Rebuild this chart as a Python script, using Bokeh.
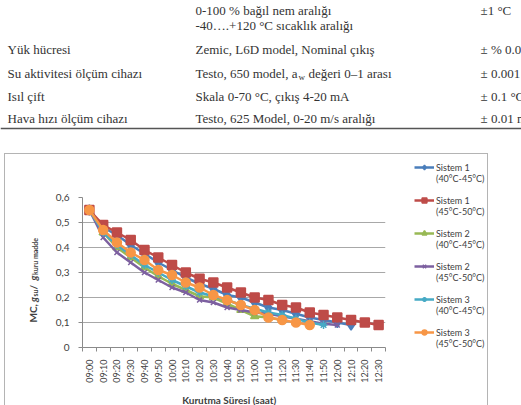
from math import pi
from bokeh.plotting import figure
from bokeh.models import (FactorRange, Range1d, LinearAxis, FixedTicker, Legend, LegendItem,
                          Span, Spacer, ColumnDataSource)
from bokeh.layouts import row, column
from bokeh.core.properties import value
from bokeh.embed import file_html
from bokeh.resources import INLINE

# ---------------- data ----------------
cats = ["09:00", "09:10", "09:20", "09:30", "09:40", "09:50", "10:00", "10:10", "10:20", "10:30",
        "10:40", "10:50", "11:00", "11:10", "11:20", "11:30", "11:40", "11:50", "12:00", "12:10",
        "12:20", "12:30"]

s1_40 = [0.55, 0.48, 0.45, 0.41, 0.375, 0.34, 0.31, 0.28, 0.255, 0.235, 0.21, 0.20, 0.18, 0.16,
         0.15, 0.135, 0.12, 0.11, 0.10, 0.09]
s1_45 = [0.55, 0.49, 0.46, 0.43, 0.39, 0.36, 0.33, 0.30, 0.275, 0.26, 0.24, 0.22, 0.20, 0.19,
         0.17, 0.16, 0.14, 0.13, 0.12, 0.11, 0.10, 0.09]
s2_40 = [0.55, 0.46, 0.40, 0.36, 0.32, 0.285, 0.255, 0.23, 0.205, 0.20, 0.175, 0.15, 0.125, 0.12,
         0.11]
s2_45 = [0.55, 0.44, 0.38, 0.34, 0.30, 0.27, 0.24, 0.22, 0.19, 0.18, 0.16, 0.15, 0.14, 0.135,
         0.125, 0.115, 0.105, 0.095, 0.09]
s3_40 = [0.55, 0.46, 0.41, 0.37, 0.33, 0.30, 0.27, 0.245, 0.22, 0.205, 0.19, 0.17, 0.155, 0.14,
         0.13, 0.115, 0.10, 0.09]
s3_45 = [0.55, 0.47, 0.42, 0.38, 0.35, 0.31, 0.29, 0.26, 0.24, 0.21, 0.19, 0.17, 0.15, 0.12,
         0.11, 0.10, 0.09]

series_names = ["Sistem 1", "Sistem 1", "Sistem 2", "Sistem 2", "Sistem 3", "Sistem 3"]
series_ranges = ["(40°C-45°C)", "(45°C-50°C)", "(40°C-45°C)", "(45°C-50°C)", "(40°C-45°C)",
                 "(45°C-50°C)"]
series_values = [s1_40, s1_45, s2_40, s2_45, s3_40, s3_45]

yticks = [0.0, 0.1, 0.2, 0.3, 0.4, 0.5, 0.6]
ytick_labels = ["0", "0,1", "0,2", "0,3", "0,4", "0,5", "0,6"]

x_title = "Kurutma Süresi (saat)"

table_col1 = ["", "", "Yük hücresi", "Su aktivitesi ölçüm cihazı", "Isıl çift",
              "Hava hızı ölçüm cihazı"]
table_col2 = ["0-100 % bağıl nem aralığı", "-40….+120 °C sıcaklık aralığı",
              "Zemic, L6D model, Nominal çıkış", "", "Skala 0-70 °C, çıkış 4-20 mA",
              "Testo, 625 Model, 0-20 m/s aralığı"]
table_col3 = ["±1 °C", "", "± % 0.02", "± 0.001", "± 0.1 °C", "± 0.01 m/s"]
aw_parts = ["Testo, 650 model, a", "w", "değeri 0–1 arası"]

# ---------------- styles / layout ----------------
colors = ["#4A7EBB", "#BE4B48", "#98B954", "#7D60A0", "#46AAC5", "#F79646"]
markers = ["diamond", "square", "triangle", "x", "asterisk", "circle"]
msizes = [10, 9, 8, 7, 8, 9]

W = 521
TABLE_H = 153
BOX_X0, BOX_X1 = 4, 487          # chart border (page px)
BOX_TOP = 153
CONTENT_H = 405 - BOX_TOP - 1     # 251
YT_W = 40                         # y-title strip width
CH_X0 = BOX_X0 + 1 + YT_W         # 45
CH_X1 = 390                       # right edge of chart figure
CH_W = CH_X1 - CH_X0
LG_W = BOX_X1 - CH_X1             # legend strip width
XT_H = 18
CH_H = CONTENT_H - XT_H
CH_Y0 = BOX_TOP + 1               # 154
FL, FR, FT, FB = 82, 385, 197, 347   # plot area (page px)
GRAY = "#404040"


def blank_fig(w, h, x0, x1, y0, y1):
    f = figure(width=w, height=h, x_range=Range1d(x0, x1), y_range=Range1d(y1, y0),
               x_axis_type=None, y_axis_type=None, toolbar_location=None,
               output_backend="svg", min_border=0)
    f.outline_line_color = None
    f.grid.visible = False
    f.background_fill_color = "white"
    f.border_fill_color = "white"
    return f


# ---------- table figure ----------
row_y = [10, 25, 49, 73, 96, 118]
col_x = [7, 195, 480]
tf = blank_fig(W, TABLE_H, 0, W, 0, TABLE_H)
serif = dict(text_font=value("Liberation Serif"), text_font_size="13px", text_color="#333333",
             text_baseline="middle", text_align="left")
for cx, col in zip(col_x, [table_col1, table_col2, table_col3]):
    src = ColumnDataSource(dict(x=[cx] * len(col), y=row_y, t=col))
    tf.text(x="x", y="y", text="t", source=src, **serif)
tf.text(x=[col_x[1]], y=[row_y[3]], text=[aw_parts[0]], **serif)
tf.text(x=[col_x[1] + 103], y=[row_y[3] + 3.5], text=[aw_parts[1]],
        text_font=value("Liberation Serif"), text_font_size="9px", text_color="#333333",
        text_baseline="middle", text_align="left")
tf.text(x=[col_x[1] + 113], y=[row_y[3]], text=[aw_parts[2]], **serif)
tf.add_layout(Span(location=128, dimension="width", line_color="#555555", line_width=1.6))

# ---------- y title strip ----------
yt = blank_fig(YT_W, CONTENT_H, BOX_X0 + 1, CH_X0, CH_Y0, CH_Y0 + CONTENT_H)
ypieces = [("MC, ", "10px", "bold", 0, 20.5), ("g", "10px", "bold italic", 0, 5.5),
           ("su", "7px", "bold", 2.5, 7.0), (" / ", "10px", "bold", 0, 9.0),
           ("g", "10px", "bold italic", 0, 5.5), ("kuru madde", "7px", "bold", 2.5, 0)]
ycur = 322
for txt, fs, st, dx, wdt in ypieces:
    yt.text(x=[32 + dx], y=[ycur], text=[txt], angle=pi / 2, text_font=value("Lato"),
            text_font_size=fs, text_font_style=st, text_color=GRAY,
            text_baseline="middle", text_align="left")
    ycur -= wdt

# ---------- main chart ----------
NC = len(cats)
p = figure(width=CH_W, height=CH_H, x_range=FactorRange(*cats), y_range=Range1d(0, 0.6),
           x_axis_type=None, toolbar_location=None, output_backend="svg",
           min_border_left=FL - CH_X0, min_border_right=CH_X1 - FR,
           min_border_top=FT - CH_Y0, min_border_bottom=CH_Y0 + CH_H - FB)
p.outline_line_color = None
p.background_fill_color = "white"
p.border_fill_color = "white"
p.xgrid.visible = False
p.ygrid.grid_line_color = "#a8a8a8"
p.ygrid.ticker = FixedTicker(ticks=yticks)

yax = p.yaxis[0]
yax.ticker = FixedTicker(ticks=yticks)
yax.major_label_overrides = dict(zip(yticks, ytick_labels))
yax.axis_line_color = "#8a8a8a"
yax.major_tick_line_color = "#8a8a8a"
yax.major_tick_out = 4
yax.major_tick_in = 0
yax.minor_tick_line_color = None
yax.major_label_standoff = 9
yax.major_label_text_font = "Lato"
yax.major_label_text_font_size = "10px"
yax.major_label_text_color = GRAY

centres = [i + 0.5 for i in range(NC)]
xax = LinearAxis(ticker=FixedTicker(ticks=centres, minor_ticks=[float(i) for i in range(NC + 1)]))
xax.major_label_overrides = dict(zip(centres, cats))
xax.major_label_orientation = pi / 2
xax.axis_line_color = "#8a8a8a"
xax.major_tick_line_color = None
xax.major_tick_out = 0
xax.major_tick_in = 0
xax.minor_tick_line_color = "#8a8a8a"
xax.minor_tick_out = 4
xax.minor_tick_in = 0
xax.major_label_standoff = 8
xax.major_label_text_font = "Lato"
xax.major_label_text_font_size = "9px"
xax.major_label_text_color = GRAY
p.add_layout(xax, "below")

for vals, col, mk, ms in zip(series_values, colors, markers, msizes):
    xs = cats[:len(vals)]
    p.line(xs, vals, line_color=col, line_width=2.5)
    p.scatter(xs, vals, marker=mk, size=ms, fill_color=col, line_color=col, line_width=1.5)

# ---------- x title strip ----------
xt = blank_fig(CH_W, XT_H, CH_X0, CH_X1, CH_Y0 + CH_H, CH_Y0 + CONTENT_H)
xt.text(x=[212], y=[399], text=[x_title], text_font=value("Lato"), text_font_size="10px",
        text_font_style="bold", text_color=GRAY, text_baseline="middle", text_align="center")

# ---------- legend strip (same series, legend only; data lies outside its view) ----------
lg = figure(width=LG_W, height=CONTENT_H, x_range=FactorRange(*cats), y_range=Range1d(10, 11),
            x_axis_type=None, y_axis_type=None, toolbar_location=None, output_backend="svg",
            min_border=0)
lg.outline_line_color = None
lg.grid.visible = False
lg.background_fill_color = "white"
lg.border_fill_color = "white"
items = []
for name, rng, vals, col, mk, ms in zip(series_names, series_ranges, series_values, colors,
                                        markers, msizes):
    xs = cats[:len(vals)]
    ln = lg.line(xs, vals, line_color=col, line_width=2.5)
    sc = lg.scatter(xs, vals, marker=mk, size=min(ms, 8), fill_color=col, line_color=col,
                    line_width=1.5)
    items.append(LegendItem(label=" \n" + name + "\n" + rng, renderers=[ln, sc]))

ITEM_H = 31          # height of one three-line legend entry
LEG_H = 6 * ITEM_H
leg_top = 172 - CH_Y0 - ITEM_H / 2
legend = Legend(items=items, location=(414 - CH_X1, CONTENT_H - leg_top - LEG_H - 6),
                glyph_width=20, glyph_height=12, label_height=ITEM_H, spacing=0, padding=0,
                margin=0, label_standoff=2, border_line_color=None, background_fill_alpha=0,
                label_text_font="Lato", label_text_font_size="9px", label_text_color=GRAY,
                label_text_line_height=1.05)
lg.add_layout(legend)

# ---------- border + assembly ----------
border = {"background-color": "#b4b4b4"}
box = column(
    Spacer(width=BOX_X1 - BOX_X0 + 1, height=1, styles=border),
    row(Spacer(width=1, height=CONTENT_H, styles=border), yt, column(p, xt), lg,
        Spacer(width=1, height=CONTENT_H, styles=border)),
)
layout = column(tf, row(Spacer(width=BOX_X0, height=CONTENT_H + 1), box))

open("out.html", "w").write(file_html(layout, INLINE))
